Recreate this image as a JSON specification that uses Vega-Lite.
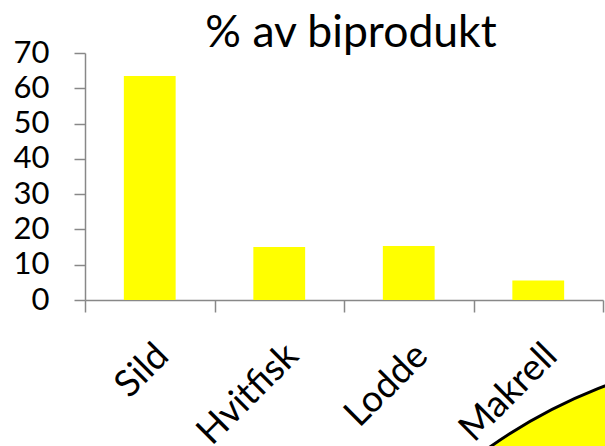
{
  "$schema": "https://vega.github.io/schema/vega-lite/v6.json",
  "width": 518,
  "height": 247,
  "autosize": "none",
  "padding": {"left": 85, "top": 53, "right": 2, "bottom": 146},
  "background": "white",
  "config": {
    "view": {"stroke": null},
    "font": "Lato",
    "axis": {"labelFontSize": 31, "labelColor": "black", "labelFont": "Lato", "labelOverlap": false, "tickColor": "#888888", "domainColor": "#888888", "domainWidth": 1.5, "tickWidth": 1.5, "grid": false, "title": null},
    "axisX": {"tickSize": 12, "labelPadding": 25, "labelAngle": -45, "tickBand": "extent", "labelFontSize": 37},
    "axisY": {"tickSize": 11, "labelPadding": 25}
  },
  "title": {"text": "% av biprodukt", "fontSize": 44.5, "font": "Lato", "fontWeight": "normal", "color": "black", "anchor": "middle", "dx": 7, "offset": -19},
  "layer": [
    {
      "data": {"values": [
        {"art": "Sild", "pct": 63.5},
        {"art": "Hvitfisk", "pct": 15.0},
        {"art": "Lodde", "pct": 15.3},
        {"art": "Makrell", "pct": 5.5}
      ]},
      "mark": {"type": "bar", "color": "#FFFF00", "width": {"band": 0.4}},
      "encoding": {
        "x": {"field": "art", "type": "nominal", "sort": null,
          "scale": {"paddingInner": 0, "paddingOuter": 0},
          "axis": {"title": null, "labelAngle": -45, "labelFontSize": 37}},
        "y": {"field": "pct", "type": "quantitative",
          "scale": {"domain": [0, 70], "nice": false},
          "axis": {"title": null, "values": [0, 10, 20, 30, 40, 50, 60, 70]}}
      }
    },
    {
      "data": {"values": [{"cx": 1.354, "cy": -160}]},
      "mark": {"type": "point", "shape": "circle", "filled": true, "fill": "#FFFF00", "stroke": "black", "strokeWidth": 3, "size": 1048576, "opacity": 1, "fillOpacity": 1},
      "encoding": {
        "x": {"field": "cx", "type": "quantitative", "scale": {"domain": [0, 1]}, "axis": null},
        "y": {"field": "cy", "type": "quantitative", "scale": {"domain": [0, 70], "nice": false}, "axis": {"title": null, "values": [0, 10, 20, 30, 40, 50, 60, 70]}}
      }
    }
  ],
  "resolve": {"scale": {"x": "independent"}}
}
